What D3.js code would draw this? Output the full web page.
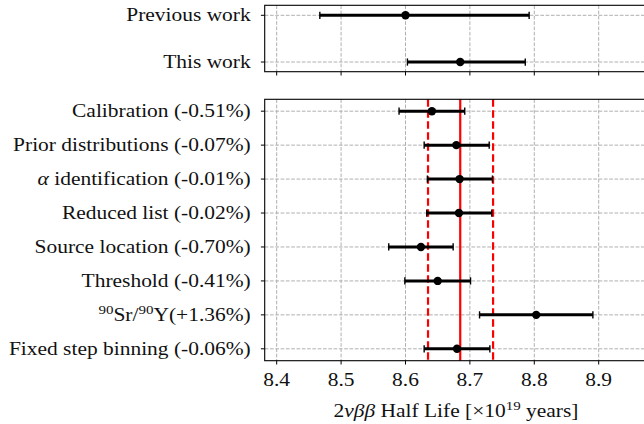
<!DOCTYPE html>
<html><head><meta charset="utf-8">
<script src="https://cdn.jsdelivr.net/npm/d3@7"></script>
<style>
html,body{margin:0;padding:0;background:#fff;overflow:hidden}
text{font-family:"Liberation Serif","DejaVu Serif",serif;fill:#111}
</style></head>
<body><svg id="c" width="644" height="424"></svg>
<script>
// ---- data ----
const topLabels = ["Previous work", "This work"];
const topValues = [8.600, 8.685];
const topErrLow = [0.133, 0.082];
const topErrHigh = [0.192, 0.101];

const sysLabels = ["Calibration (-0.51%)", "Prior distributions (-0.07%)", "α identification (-0.01%)",
  "Reduced list (-0.02%)", "Source location (-0.70%)", "Threshold (-0.41%)", "SRY", "Fixed step binning (-0.06%)"];
const sysValues = [8.641, 8.679, 8.684, 8.683, 8.624, 8.650, 8.803, 8.680];
const sysErrLow = [0.051, 0.050, 0.050, 0.050, 0.050, 0.051, 0.088, 0.051];
const sysErrHigh = [0.051, 0.051, 0.051, 0.051, 0.050, 0.051, 0.088, 0.051];

const central = 8.685;
const bandLow = 8.635, bandHigh = 8.736;
const xTicks = [8.4, 8.5, 8.6, 8.7, 8.8, 8.9];

// ---- layout ----
const svg = d3.select("#c");
const x = d3.scaleLinear().domain([8.3814, 8.975]).range([264.7, 647]);
const yTop = d3.scaleLinear().domain([-0.214, 1.207]).range([5.3, 71.7]);
const yBot = d3.scaleLinear().domain([-0.35, 7.35]).range([99.3, 360.7]);
const fs = 18.5;
const sx = 1.16; // horizontal stretch to mimic Computer Modern widths

function stretchedText(parent, px, py, anchor) {
  return parent.append("g").attr("transform", `translate(${px},${py}) scale(${sx},1)`)
    .append("text").attr("x", 0).attr("y", 0).attr("text-anchor", anchor).attr("font-size", fs);
}

function panel(y, labels, vals, lo, hi, showXLabels, isBottom) {
  const g = svg.append("g");
  const [y0, y1] = y.range();
  const [xl, xr] = x.range();
  g.selectAll(".gx").data(xTicks).join("line")
    .attr("x1", d => x(d)).attr("x2", d => x(d)).attr("y1", y0).attr("y2", y1)
    .attr("stroke", "#b0b0b0").attr("stroke-width", 1).attr("stroke-dasharray", "3.7,1.6");
  g.selectAll(".gy").data(labels).join("line")
    .attr("x1", xl).attr("x2", xr).attr("y1", (d, i) => y(i)).attr("y2", (d, i) => y(i))
    .attr("stroke", "#b0b0b0").attr("stroke-width", 1).attr("stroke-dasharray", "3.7,1.6");
  if (isBottom) {
    g.append("line").attr("x1", x(central)).attr("x2", x(central)).attr("y1", y0).attr("y2", y1)
      .attr("stroke", "#ff0000").attr("stroke-width", 2.2);
    [bandLow, bandHigh].forEach(v => g.append("line").attr("x1", x(v)).attr("x2", x(v)).attr("y1", y0).attr("y2", y1)
      .attr("stroke", "#ff0000").attr("stroke-width", 2.2).attr("stroke-dasharray", "7.5,3.5"));
  }
  labels.forEach((l, i) => {
    const yy = y(i), a = x(vals[i] - lo[i]), b = x(vals[i] + hi[i]);
    g.append("line").attr("x1", a).attr("x2", b).attr("y1", yy).attr("y2", yy).attr("stroke", "#000").attr("stroke-width", 3);
    [a, b].forEach(xx => g.append("line").attr("x1", xx).attr("x2", xx).attr("y1", yy - 3.6).attr("y2", yy + 3.6).attr("stroke", "#000").attr("stroke-width", 1.4));
    g.append("circle").attr("cx", x(vals[i])).attr("cy", yy).attr("r", 4.2).attr("fill", "#000");
  });
  g.append("rect").attr("x", xl).attr("y", y0).attr("width", xr - xl).attr("height", y1 - y0)
    .attr("fill", "none").attr("stroke", "#000").attr("stroke-width", 1.1);
  g.selectAll(".tx").data(xTicks).join("line")
    .attr("x1", d => x(d)).attr("x2", d => x(d)).attr("y1", y1).attr("y2", y1 + 3.8)
    .attr("stroke", "#000").attr("stroke-width", 1);
  if (showXLabels) {
    xTicks.forEach(d => stretchedText(g, x(d), y1 + 25.5, "middle").text(d.toFixed(1)));
  }
  labels.forEach((l, i) => {
    const yy = y(i);
    g.append("line").attr("x1", xl - 3.8).attr("x2", xl).attr("y1", yy).attr("y2", yy).attr("stroke", "#000").attr("stroke-width", 1);
    const t = stretchedText(g, xl - 14, yy + 6, "end");
    if (l === "SRY") {
      t.append("tspan").attr("font-size", fs * 0.7).attr("dy", -7).text("90");
      t.append("tspan").attr("dy", 7).text("Sr/");
      t.append("tspan").attr("font-size", fs * 0.7).attr("dy", -7).text("90");
      t.append("tspan").attr("dy", 7).text("Y(+1.36%)");
    } else if (l.startsWith("α")) {
      t.append("tspan").attr("font-style", "italic").text("α");
      t.append("tspan").text(l.slice(1));
    } else {
      t.text(l);
    }
  });
}

panel(yTop, topLabels, topValues, topErrLow, topErrHigh, false, false);
panel(yBot, sysLabels, sysValues, sysErrLow, sysErrHigh, true, true);

const xt = stretchedText(svg, 456, 416.5, "middle");
xt.append("tspan").text("2");
xt.append("tspan").attr("font-style", "italic").text("νββ");
xt.append("tspan").text(" Half Life [×10");
xt.append("tspan").attr("font-size", fs * 0.7).attr("dy", -7).text("19");
xt.append("tspan").attr("dy", 7).text(" years]");
</script></body></html>
